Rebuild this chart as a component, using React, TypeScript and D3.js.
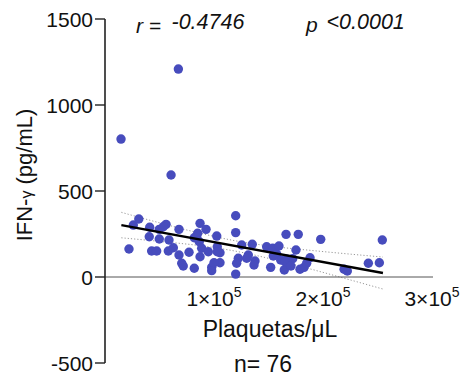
import React from "react";
import * as d3 from "d3";

const W = 466;
const H = 378;

// Platelets (per µL) and IFN-γ (pg/mL)
const plaquetas = [
  22000, 26000, 31000, 41000, 40600, 42800, 47400, 49800, 49800, 56000,
  58700, 58100, 62700, 67900, 67900, 70400, 71800, 77100, 81900, 87200,
  92700, 85000, 81900, 86500, 88700, 87200, 94800, 97900, 97900, 102500,
  103000, 105500, 105500, 100000, 119900, 119900, 125400, 122300, 120800, 119900,
  131500, 135100, 137600, 136700, 148300, 152000, 153900, 157500, 159600, 161200,
  164500, 166100, 166700, 172200, 175200, 177300, 178900, 182600, 185000, 188100,
  197900, 219300, 222300, 241600, 251700, 254400, 53500, 84100, 154400, 165100,
  130000, 103000, 170600, 67300, 14700, 60600,
];
const ifng = [
  163, 302, 337, 289, 234, 151, 151, 277, 221, 306,
  215, 151, 170, 277, 128, 80, 64, 144, 51, 312,
  277, 254, 228, 205, 167, 118, 147, 56, 37, 238,
  176, 141, 83, 83, 356, 258, 186, 109, 80, 17,
  128, 190, 93, 70, 176, 56, 167, 134, 180, 99,
  41, 248, 103, 106, 157, 248, 45, 56, 80, 112,
  219, 45, 35, 80, 83, 215, 292, 231, 122, 89,
  109, 147, 64, 1209, 802, 593,
];

// Fitted line and its 95% band
const fitX = [15000, 255000];
const fitY = [302, 23];
const bandX = [15000, 50000, 85000, 120000, 155000, 190000, 225000, 255000];
const bandUpper = [376, 315, 258, 210, 177, 154, 133, 116];
const bandLower = [228, 207, 184, 150, 101, 44, -17, -70];

const yTicks = [-500, 0, 500, 1000, 1500];
const xTicks = [100000, 200000, 300000];
const xTickLabels = ["1×10", "2×10", "3×10"];
const xTickExp = "5";

const rText = "-0.4746";
const pText = "<0.0001";
const nText = "n= 76";

const FONT = "'Liberation Sans', Arial, Helvetica, sans-serif";

export default function App() {
  const x = d3.scaleLinear().domain([0, 300000]).range([105, 432]);
  const y = d3.scaleLinear().domain([-500, 1500]).range([363, 19]);

  const pts = plaquetas.map((v, i) => ({ x: v, y: ifng[i] }));
  const line = d3
    .line<[number, number]>()
    .x((d) => x(d[0]))
    .y((d) => y(d[1]));
  const curve = d3
    .line<[number, number]>()
    .x((d) => x(d[0]))
    .y((d) => y(d[1]))
    .curve(d3.curveMonotoneX);

  const fitPts = fitX.map((v, i) => [v, fitY[i]] as [number, number]);
  const upPts = bandX.map((v, i) => [v, bandUpper[i]] as [number, number]);
  const loPts = bandX.map((v, i) => [v, bandLower[i]] as [number, number]);

  return (
    <svg width={W} height={H} style={{ position: "absolute", left: 0, top: 0, background: "#fff" }} fontFamily={FONT}>
      <rect x={0} y={0} width={W} height={H} fill="#fff" />
      {/* confidence band */}
      <path d={curve(upPts) || ""} fill="none" stroke="#999" strokeWidth={1} strokeDasharray="1.2,2" />
      <path d={curve(loPts) || ""} fill="none" stroke="#999" strokeWidth={1} strokeDasharray="1.2,2" />
      {/* x axis line */}
      <line x1={x(0)} x2={433} y1={y(0)} y2={y(0)} stroke="#555" strokeWidth={1} />
      {/* points */}
      {pts.map((p, i) => (
        <circle key={i} cx={x(p.x)} cy={y(p.y)} r={4.7} fill="#474cbd" />
      ))}
      {/* fit line */}
      <path d={line(fitPts) || ""} fill="none" stroke="#000" strokeWidth={2.4} />
      {/* y axis */}
      <line x1={105} x2={105} y1={y(1500)} y2={y(-500)} stroke="#222" strokeWidth={1.6} />
      {yTicks.map((t) => (
        <g key={t}>
          <line x1={95} x2={105} y1={y(t)} y2={y(t)} stroke="#222" strokeWidth={1.4} />
          <text x={93} y={y(t) + 7.5} textAnchor="end" fontSize={21} fill="#111">
            {t}
          </text>
        </g>
      ))}
      {/* x tick labels */}
      {xTicks.map((t, i) => (
        <text key={t} x={x(t)} y={306} textAnchor="middle" fontSize={21} fill="#111">
          {xTickLabels[i]}
          <tspan fontSize={14} dy={-9}>{xTickExp}</tspan>
        </text>
      ))}
      {/* y title */}
      <text transform="translate(31.5,175) rotate(-90)" textAnchor="middle" fontSize={22} fill="#111">
        IFN-<tspan fontSize={16}>γ</tspan> (pg/mL)
      </text>
      {/* x title */}
      <text x={270} y={337} textAnchor="middle" fontSize={23} fill="#111">
        Plaquetas/μL
      </text>
      <text x={263} y={372} textAnchor="middle" fontSize={23} fill="#111">
        {nText}
      </text>
      {/* stats */}
      <text x={136} y={33} fontSize={21} fontStyle="italic" fill="#111">
        r =
      </text>
      <text x={171.5} y={29.3} fontSize={21.5} fontStyle="italic" fill="#111">
        {rText}
      </text>
      <text x={306} y={32.3} fontSize={21} fontStyle="italic" fill="#111">
        p
      </text>
      <text x={326.5} y={29} fontSize={21.5} fontStyle="italic" fill="#111">
        {pText}
      </text>
    </svg>
  );
}
